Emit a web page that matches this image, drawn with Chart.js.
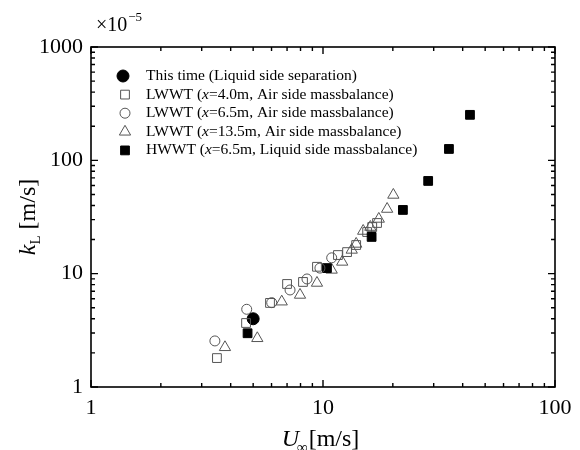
<!DOCTYPE html>
<html>
<head>
<meta charset="utf-8">
<script src="https://cdn.jsdelivr.net/npm/chart.js@4.4.0/dist/chart.umd.min.js"></script>
<style>
  html, body { margin: 0; padding: 0; background: #fff; }
</style>
</head>
<body>
<canvas id="chart" width="580" height="450"></canvas>
<script>
// U_inf [m/s] and k_L [x1e-5 m/s]
const thisTimeU = [5.0];
const thisTimeK = [4.0];

const lw40U = [3.49, 4.66, 5.91, 7.00, 8.20, 9.42, 11.6, 12.7, 13.9, 15.5, 16.3, 17.1];
const lw40K = [1.80, 3.67, 5.52, 8.11, 8.45, 11.5, 14.6, 15.5, 17.9, 23.3, 25.8, 28.0];

const lw65U = [3.42, 4.69, 6.01, 7.21, 8.53, 9.70, 10.9];
const lw65K = [2.55, 4.85, 5.55, 7.18, 8.98, 11.2, 13.8];

const lw135U = [3.78, 5.21, 6.64, 7.96, 9.42, 10.9, 12.1, 13.3, 13.9, 14.9, 16.0, 17.4, 18.9, 20.1];
const lw135K = [2.24, 2.69, 5.66, 6.49, 8.28, 10.8, 12.7, 16.2, 18.3, 23.8, 25.8, 30.4, 37.2, 49.5];

const hwU = [4.73, 10.4, 16.2, 22.1, 28.4, 34.9, 43.0];
const hwK = [2.98, 11.2, 21.1, 36.5, 65.8, 126, 252];

const xTickLabels = ['1', '10', '100'];
const yTickLabels = ['1', '10', '100', '1000'];

const serif = "'Liberation Serif', 'Times New Roman', serif";
const grey = '#555';

function pts(xs, ys) {
  return xs.map((x, i) => ({ x, y: ys[i] }));
}

const series = [
  { label: [['This time (Liquid side separation)', false]],
    data: pts(thisTimeU, thisTimeK), style: 'circle', radius: 6, fill: '#000', stroke: '#000' },
  { label: [['LWWT (', false], ['x', true], ['=4.0m, Air side massbalance)', false]],
    data: pts(lw40U, lw40K), style: 'rect', radius: 6.2, fill: 'rgba(0,0,0,0)', stroke: grey },
  { label: [['LWWT (', false], ['x', true], ['=6.5m, Air side massbalance)', false]],
    data: pts(lw65U, lw65K), style: 'circle', radius: 5, fill: 'rgba(0,0,0,0)', stroke: grey },
  { label: [['LWWT (', false], ['x', true], ['=13.5m, Air side massbalance)', false]],
    data: pts(lw135U, lw135K), style: 'triangle', radius: 6.5, fill: 'rgba(0,0,0,0)', stroke: grey },
  { label: [['HWWT (', false], ['x', true], ['=6.5m, Liquid side massbalance)', false]],
    data: pts(hwU, hwK), style: 'rect', radius: 6.2, fill: '#000', stroke: '#000' },
];

const drawOrder = [3, 5, 4, 2, 1];

function logTicks(min, max) {
  const out = [];
  for (let d = min; d < max; d *= 10) {
    for (let m = 1; m < 10; m++) out.push({ value: d * m });
  }
  out.push({ value: max });
  return out;
}

function isDecade(v) {
  return Math.abs(Math.log10(v) - Math.round(Math.log10(v))) < 1e-9;
}

function drawRich(ctx, parts, x, y, size) {
  for (const [txt, ital] of parts) {
    ctx.font = (ital ? 'italic ' : '') + size + 'px ' + serif;
    ctx.fillText(txt, x, y);
    x += ctx.measureText(txt).width;
  }
}

const framePlugin = {
  id: 'frame',
  afterDatasetsDraw(chart) {
    const ctx = chart.ctx;
    const a = chart.chartArea;
    const xs = chart.scales.x, ys = chart.scales.y;
    ctx.save();
    ctx.strokeStyle = '#000';
    ctx.lineWidth = 1.6;
    ctx.strokeRect(a.left, a.top, a.right - a.left, a.bottom - a.top);

    ctx.lineWidth = 1.4;
    ctx.beginPath();
    for (const t of xs.ticks) {
      const px = xs.getPixelForValue(t.value);
      const len = isDecade(t.value) ? 7 : 4;
      ctx.moveTo(px, a.bottom); ctx.lineTo(px, a.bottom - len);
      ctx.moveTo(px, a.top); ctx.lineTo(px, a.top + len);
    }
    for (const t of ys.ticks) {
      const py = ys.getPixelForValue(t.value);
      const len = isDecade(t.value) ? 7 : 4;
      ctx.moveTo(a.left, py); ctx.lineTo(a.left + len, py);
      ctx.moveTo(a.right, py); ctx.lineTo(a.right - len, py);
    }
    ctx.stroke();

    // legend
    const lx = a.left + 34, ltx = a.left + 55;
    let ly = a.top + 29;
    ctx.textBaseline = 'middle';
    series.forEach((s, i) => {
      ctx.fillStyle = s.fill;
      ctx.strokeStyle = s.stroke;
      ctx.lineWidth = 1;
      Chart.helpers.drawPoint(ctx, { pointStyle: s.style, radius: s.radius, rotation: 0, borderWidth: 1 },
        i === 0 ? lx - 2 : lx, ly);
      ctx.fillStyle = '#000';
      drawRich(ctx, s.label, ltx, ly, 15.5);
      ly += 18.6;
    });

    // x10^-5
    ctx.textBaseline = 'alphabetic';
    ctx.font = '20px ' + serif;
    ctx.fillText('\u00d710', a.left + 5, a.top - 16);
    const w = ctx.measureText('\u00d710').width;
    ctx.font = '13px ' + serif;
    ctx.fillText('\u22125', a.left + 5 + w + 1, a.top - 26);

    // x title
    ctx.font = 'italic 24px ' + serif;
    const uW = ctx.measureText('U').width;
    ctx.font = '15px ' + serif;
    const infW = ctx.measureText('\u221e').width;
    ctx.font = '24px ' + serif;
    const unitW = ctx.measureText('[m/s]').width;
    let tx = (a.left + a.right) / 2 - (uW + infW + unitW) / 2 - 2;
    const tb = 446;
    ctx.font = 'italic 24px ' + serif;
    ctx.fillText('U', tx, tb);
    ctx.font = '15px ' + serif;
    ctx.fillText('\u221e', tx + uW - 2, tb + 6);
    ctx.font = '24px ' + serif;
    ctx.fillText('[m/s]', tx + uW + infW - 1, tb);

    // y title
    ctx.translate(35, (a.top + a.bottom) / 2);
    ctx.rotate(-Math.PI / 2);
    ctx.font = 'italic 24px ' + serif;
    const kW = ctx.measureText('k').width;
    ctx.font = '15px ' + serif;
    const lW = ctx.measureText('L').width;
    ctx.font = '24px ' + serif;
    const u2W = ctx.measureText(' [m/s]').width;
    let ty = -(kW + lW + u2W) / 2;
    ctx.font = 'italic 24px ' + serif;
    ctx.fillText('k', ty, 0);
    ctx.font = '15px ' + serif;
    ctx.fillText('L', ty + kW, 5);
    ctx.font = '24px ' + serif;
    ctx.fillText(' [m/s]', ty + kW + lW, 0);
    ctx.restore();
  }
};

new Chart(document.getElementById('chart'), {
  type: 'scatter',
  data: {
    datasets: drawOrder.map(n => {
      const s = series[n - 1];
      return {
        label: s.label.map(p => p[0]).join(''),
        data: s.data,
        pointStyle: s.style,
        pointRadius: s.radius,
        pointHoverRadius: s.radius,
        pointBackgroundColor: s.fill,
        pointBorderColor: s.stroke,
        pointBorderWidth: 1,
        showLine: false,
      };
    }),
  },
  options: {
    responsive: false,
    animation: false,
    layout: { padding: { left: 0, top: 47, right: 25, bottom: 0 } },
    plugins: {
      legend: { display: false },
      tooltip: { enabled: false },
    },
    scales: {
      x: {
        type: 'logarithmic',
        min: 1,
        max: 100,
        grid: { display: false, drawTicks: false },
        border: { display: false },
        afterBuildTicks: s => { s.ticks = logTicks(1, 100); },
        afterFit: s => { s.height = 63; },
        ticks: {
          autoSkip: false,
          maxRotation: 0,
          padding: 8,
          color: '#000',
          font: { family: serif, size: 22 },
          callback: v => isDecade(v) ? xTickLabels[Math.round(Math.log10(v))] : '',
        },
      },
      y: {
        type: 'logarithmic',
        min: 1,
        max: 1000,
        grid: { display: false, drawTicks: false },
        border: { display: false },
        afterBuildTicks: s => { s.ticks = logTicks(1, 1000); },
        afterFit: s => { s.width = 91; },
        ticks: {
          autoSkip: false,
          padding: 8,
          color: '#000',
          font: { family: serif, size: 22 },
          callback: v => isDecade(v) ? yTickLabels[Math.round(Math.log10(v))] : '',
        },
      },
    },
  },
  plugins: [framePlugin],
});
</script>
</body>
</html>
